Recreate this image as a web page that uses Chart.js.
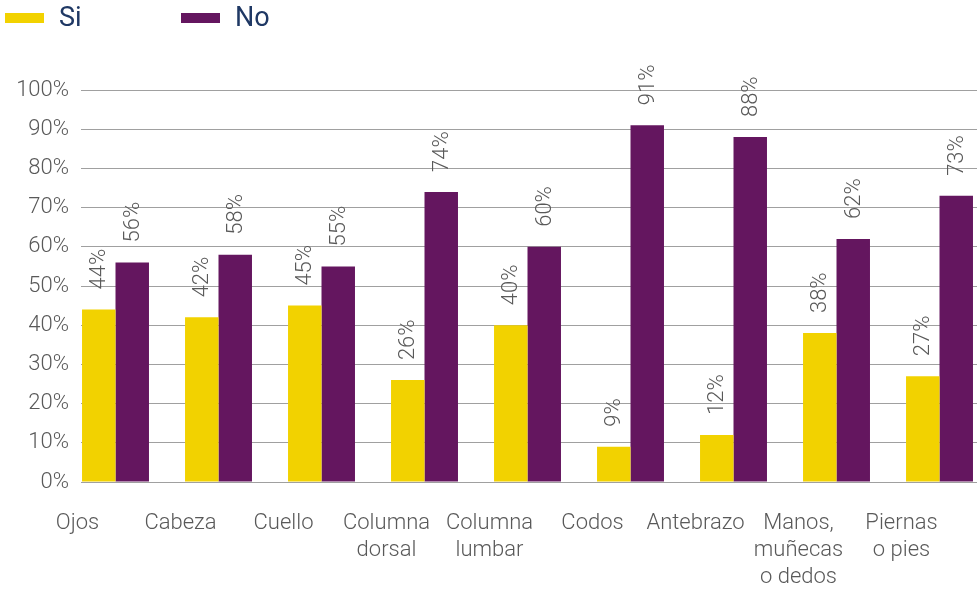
<!DOCTYPE html>
<html>
<head>
<meta charset="utf-8">
<script src="https://cdn.jsdelivr.net/npm/chart.js@4.4.1/dist/chart.umd.min.js"></script>
<style>
  body { margin: 0; background: #fff; }
  #wrap { position: relative; width: 977px; height: 589px; }
  .legend { position: absolute; top: 0; left: 0; font-family: Roboto, sans-serif; font-size: 27px; color: #1f3864; }
  .legend .item { position: absolute; top: 2px; white-space: nowrap; line-height: 30px; }
  .legend .box { position: absolute; top: 11px; width: 39px; height: 10px; }
  .legend .txt { position: absolute; left: 54px; }
</style>
</head>
<body>
<div id="wrap">
  <canvas id="chart" width="977" height="589"></canvas>
  <div class="legend" id="legend"></div>
</div>
<script>
const categories = ['Ojos', 'Cabeza', 'Cuello', ['Columna', 'dorsal'], ['Columna', 'lumbar'],
  'Codos', 'Antebrazo', ['Manos,', 'muñecas', 'o dedos'], ['Piernas', 'o pies']];
const siValues = [44, 42, 45, 26, 40, 9, 12, 38, 27];
const noValues = [56, 58, 55, 74, 60, 91, 88, 62, 73];
const yTicks = [0, 10, 20, 30, 40, 50, 60, 70, 80, 90, 100];

const YELLOW = '#f2d200';
const PURPLE = '#64165f';
const TEXT = '#595959';
const FONT = { family: 'Roboto, sans-serif', size: 22, weight: '300' };

// legend above the plot
const legendItems = [
  { label: 'Si', color: YELLOW, left: 5 },
  { label: 'No', color: PURPLE, left: 181 }
];
const legendEl = document.getElementById('legend');
legendItems.forEach(it => {
  const d = document.createElement('div');
  d.className = 'item';
  d.style.left = it.left + 'px';
  d.innerHTML = `<span class="box" style="background:${it.color}"></span><span class="txt">${it.label}</span>`;
  legendEl.appendChild(d);
});

// rotated percentage labels above each bar
const barLabels = {
  id: 'barLabels',
  afterDatasetsDraw(chart) {
    const ctx = chart.ctx;
    ctx.save();
    ctx.fillStyle = TEXT;
    ctx.font = `${FONT.weight} ${FONT.size}px ${FONT.family}`;
    ctx.textAlign = 'left';
    ctx.textBaseline = 'middle';
    chart.data.datasets.forEach((ds, di) => {
      chart.getDatasetMeta(di).data.forEach((bar, i) => {
        ctx.save();
        ctx.translate(bar.x, bar.y - 20);
        ctx.rotate(-Math.PI / 2);
        ctx.fillText(ds.data[i].y + '%', 0, 1);
        ctx.restore();
      });
    });
    ctx.restore();
  }
};

new Chart(document.getElementById('chart'), {
  type: 'bar',
  data: {
    datasets: [
      { label: 'Si', data: siValues.map((v, i) => ({ x: i, y: v })), backgroundColor: YELLOW },
      { label: 'No', data: noValues.map((v, i) => ({ x: i, y: v })), backgroundColor: PURPLE }
    ]
  },
  options: {
    responsive: false,
    animation: false,
    categoryPercentage: 0.65,
    barPercentage: 1.0,
    layout: { autoPadding: false, padding: { top: 90, left: 15, right: 0, bottom: 0 } },
    plugins: { legend: { display: false }, tooltip: { enabled: false } },
    scales: {
      x: {
        type: 'linear',
        offset: false,
        min: -0.335,
        max: 8.364,
        grid: { display: false, drawTicks: false },
        border: { display: false },
        afterBuildTicks: (scale) => { scale.ticks = categories.map((_, i) => ({ value: i })); },
        afterFit: (scale) => {
          scale.height = 107;
          scale.paddingLeft = 0;
          scale.paddingRight = 0;
        },
        ticks: {
          autoSkip: false,
          maxRotation: 0,
          padding: 28,
          labelOffset: -38,
          color: TEXT,
          font: { ...FONT, lineHeight: 1.23 },
          callback: (v) => categories[v]
        }
      },
      y: {
        min: 0,
        max: 100,
        afterBuildTicks: (scale) => { scale.ticks = yTicks.map(v => ({ value: v })); },
        afterFit: (scale) => { scale.width = 66; },
        grid: { color: '#a0a0a0', lineWidth: 1, drawTicks: false },
        border: { display: false },
        ticks: {
          padding: 12,
          color: TEXT,
          font: FONT,
          callback: (v) => v + '%'
        }
      }
    }
  },
  plugins: [barLabels]
});
</script>
</body>
</html>
